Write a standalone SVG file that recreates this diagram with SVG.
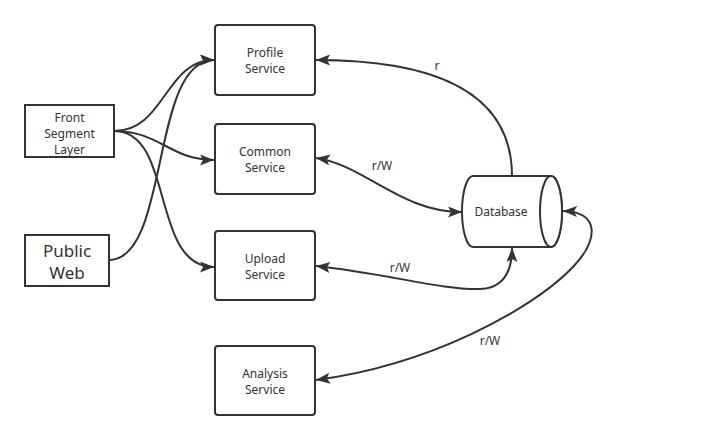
<svg xmlns="http://www.w3.org/2000/svg" width="706" height="441" viewBox="0 0 706 441">
<style>
.box{fill:#fff;stroke:#333;stroke-width:2}
.t{font-family:"Noto Sans","Liberation Sans",sans-serif;font-size:12px;fill:#333;text-anchor:middle}
.big{font-size:17px}
.c{fill:none;stroke:#333;stroke-width:2}
.a{marker-end:url(#arr)}
.b{marker-end:url(#arr);marker-start:url(#arrs)}
</style>
<defs>
<marker id="arr" markerUnits="userSpaceOnUse" markerWidth="16" markerHeight="13" refX="14" refY="5.5" orient="auto" viewBox="0 0 16 13">
<path d="M0,0 L14,5.5 L0,11 L3,5.5 Z" fill="#333"/>
</marker>
<marker id="arrs" markerUnits="userSpaceOnUse" markerWidth="16" markerHeight="13" refX="14" refY="5.5" orient="auto-start-reverse" viewBox="0 0 16 13">
<path d="M0,0 L14,5.5 L0,11 L3,5.5 Z" fill="#333"/>
</marker>
</defs>
<rect width="706" height="441" fill="#fff"/>
<g id="connectors">
<path class="c a" d="M114,131 C165,131 165,60 214,60"/>
<path class="c a" d="M114,131 C160,131 170,160 214,160"/>
<path class="c a" d="M114,131 C175,131 150,267 214,267"/>
<path class="c a" d="M109,260 C170,260 150,60 214,60"/>
<path class="c a" d="M512,176 C512,90 430,60 316,60"/>
<path class="c b" d="M316,158 C365,165 400,212 462,212"/>
<path class="c b" d="M316,266 C390,274 440,290 480,289 C505,288 512,270 512,248"/>
<path class="c b" d="M316,380 C430,365 530,310 570,270 C600,240 600,212 563,211"/>
<text class="t" x="437" y="70">r</text>
<text class="t" x="382" y="170">r/W</text>
<text class="t" x="400" y="272">r/W</text>
<text class="t" x="490" y="345">r/W</text>
</g>
<g id="front">
<rect class="box" x="25" y="105" width="89" height="52"/>
<text class="t" x="69.5" y="122">Front</text>
<text class="t" x="69.5" y="138">Segment</text>
<text class="t" x="69.5" y="154">Layer</text>
</g>
<g id="publicweb">
<rect class="box" x="25" y="235" width="84" height="51"/>
<text class="t big" x="67" y="257">Public</text>
<text class="t big" x="67" y="279">Web</text>
</g>
<g id="profile">
<rect class="box" x="215" y="25" width="100" height="70" rx="3"/>
<text class="t" x="265" y="57">Profile</text>
<text class="t" x="265" y="73">Service</text>
</g>
<g id="common">
<rect class="box" x="215" y="124" width="100" height="70" rx="3"/>
<text class="t" x="265" y="156">Common</text>
<text class="t" x="265" y="172">Service</text>
</g>
<g id="upload">
<rect class="box" x="215" y="231" width="100" height="69" rx="3"/>
<text class="t" x="265" y="263">Upload</text>
<text class="t" x="265" y="279">Service</text>
</g>
<g id="analysis">
<rect class="box" x="215" y="346" width="100" height="69" rx="3"/>
<text class="t" x="265" y="378">Analysis</text>
<text class="t" x="265" y="394">Service</text>
</g>
<g id="database">
<path class="box" d="M473,176 L551,176 A11,35.5 0 0 1 551,247 L473,247 A11,35.5 0 0 1 473,176 Z"/>
<ellipse class="box" cx="551" cy="211.5" rx="11" ry="35.5"/>
<text class="t" x="501" y="216">Database</text>
</g>
</svg>
